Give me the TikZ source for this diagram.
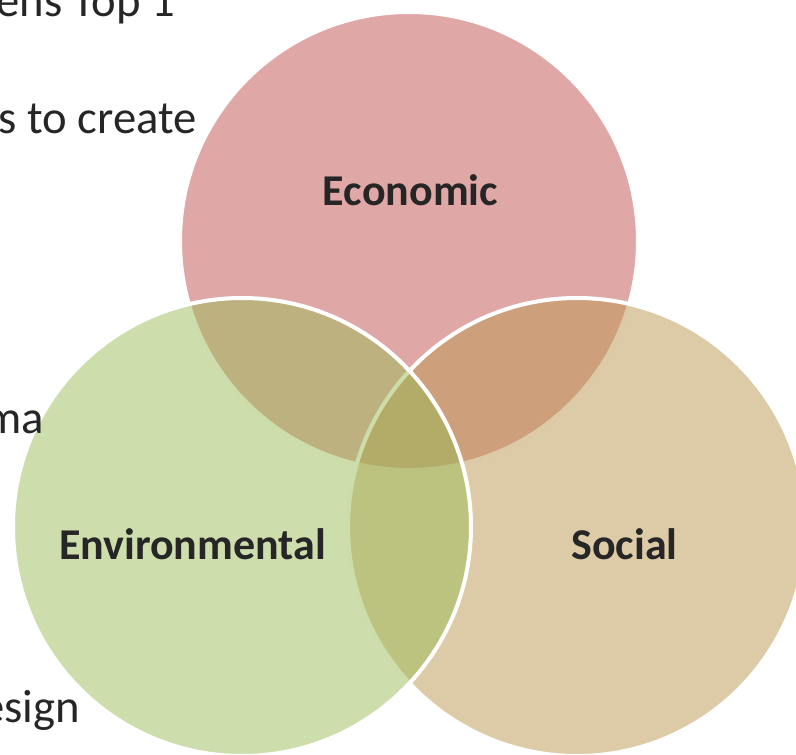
\documentclass[tikz,border=0pt]{standalone}
\usepackage{fontspec}
\setmainfont{Carlito}
\definecolor{ecored}{HTML}{C0504D}
\definecolor{envgreen}{HTML}{9BBB59}
\definecolor{soctan}{HTML}{BB974F}
\definecolor{txtgray}{HTML}{262626}
\tikzset{
  venn/.style={draw=white, line width=3pt, fill opacity=0.5, draw opacity=1},
  label/.style={font=\fontsize{33}{40}\selectfont\bfseries, text=txtgray, inner sep=0pt, anchor=base},
  bgtext/.style={font=\fontsize{35}{42}\selectfont, text=txtgray, inner sep=0pt, anchor=base east}
}
\begin{document}
\begin{tikzpicture}[x=0.75pt, y=-0.75pt]
\useasboundingbox (0,0) rectangle (796,755);
% circles
\path[venn, fill=ecored] (409,241) circle[radius=229];
\path[venn, fill=soctan] (577,527) circle[radius=229];
\path[venn, fill=envgreen] (242,527) circle[radius=229];
% background text
\node[bgtext] (t1) at (175,17) {ens Top 1};
\node[bgtext] (t2) at (197,134) {s to create};
\node[bgtext] (t3) at (44,434) {ma};
\node[bgtext] (t4) at (80,722) {esign};
% labels
\node[label] (eco) at (410.5,206) {Economic};
\node[label] (env) at (192.5,559) {Environmental};
\node[label] (soc) at (624.5,559) {Social};
\end{tikzpicture}
\end{document}
